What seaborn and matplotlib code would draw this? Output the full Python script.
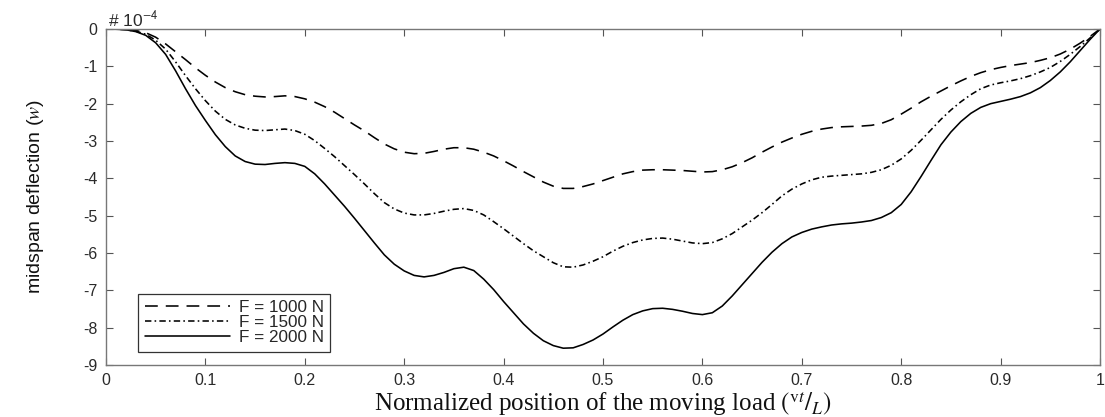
import numpy as np
import pandas as pd
import seaborn as sns
import matplotlib
matplotlib.use("Agg")
import matplotlib.pyplot as plt

# Normalized load position vt/L
position = np.round(np.arange(0, 1.0001, 0.01), 2)

# Midspan deflection (units of 1e-4) for each load level
defl_1000 = [0, -0.003, -0.01, -0.04, -0.10, -0.22, -0.40, -0.61, -0.82, -1.04,
             -1.24, -1.42, -1.57, -1.68, -1.76, -1.80, -1.82, -1.81, -1.79, -1.81,
             -1.87, -1.96, -2.08, -2.23, -2.40, -2.57, -2.73, -2.91, -3.08, -3.21,
             -3.30, -3.34, -3.33, -3.28, -3.22, -3.18, -3.18, -3.22, -3.30, -3.40,
             -3.53, -3.67, -3.82, -3.96, -4.10, -4.21, -4.27, -4.27, -4.22, -4.15,
             -4.06, -3.97, -3.88, -3.82, -3.78, -3.77, -3.77, -3.78, -3.79, -3.81,
             -3.83, -3.82, -3.77, -3.69, -3.58, -3.45, -3.30, -3.16, -3.03, -2.92,
             -2.82, -2.74, -2.68, -2.64, -2.62, -2.61, -2.60, -2.58, -2.53, -2.43,
             -2.28, -2.12, -1.95, -1.80, -1.66, -1.52, -1.39, -1.27, -1.17, -1.09,
             -1.03, -0.98, -0.94, -0.90, -0.84, -0.77, -0.67, -0.54, -0.38, -0.20, 0]
defl_1500 = [0, -0.005, -0.02, -0.06, -0.14, -0.30, -0.54, -0.88, -1.25, -1.60,
             -1.92, -2.20, -2.42, -2.57, -2.66, -2.71, -2.72, -2.70, -2.68, -2.72,
             -2.82, -2.99, -3.20, -3.42, -3.66, -3.90, -4.15, -4.41, -4.65, -4.82,
             -4.93, -4.98, -4.98, -4.94, -4.88, -4.83, -4.81, -4.86, -4.98, -5.16,
             -5.35, -5.55, -5.75, -5.94, -6.10, -6.26, -6.37, -6.38, -6.32, -6.22,
             -6.10, -5.95, -5.82, -5.72, -5.65, -5.61, -5.60, -5.63, -5.68, -5.73,
             -5.75, -5.72, -5.62, -5.48, -5.30, -5.12, -4.92, -4.70, -4.47, -4.29,
             -4.15, -4.04, -3.97, -3.94, -3.92, -3.90, -3.88, -3.84, -3.77, -3.65,
             -3.48, -3.25, -2.98, -2.70, -2.42, -2.17, -1.95, -1.76, -1.60, -1.50,
             -1.44, -1.39, -1.33, -1.25, -1.15, -1.03, -0.87, -0.68, -0.47, -0.24, 0]
defl_2000 = [0, -0.005, -0.02, -0.07, -0.17, -0.37, -0.68, -1.12, -1.60, -2.05,
             -2.45, -2.83, -3.15, -3.40, -3.55, -3.62, -3.63, -3.60, -3.58, -3.60,
             -3.68, -3.88, -4.15, -4.45, -4.75, -5.07, -5.40, -5.73, -6.05, -6.30,
             -6.48, -6.60, -6.64, -6.60, -6.52, -6.42, -6.38, -6.47, -6.70, -6.98,
             -7.30, -7.60, -7.90, -8.15, -8.35, -8.48, -8.55, -8.54, -8.45, -8.33,
             -8.17, -7.98, -7.80, -7.65, -7.55, -7.49, -7.48, -7.51, -7.56, -7.62,
             -7.65, -7.60, -7.42, -7.15, -6.85, -6.55, -6.25, -5.98, -5.75, -5.57,
             -5.45, -5.36, -5.30, -5.25, -5.22, -5.20, -5.17, -5.13, -5.05, -4.92,
             -4.70, -4.36, -3.95, -3.52, -3.10, -2.76, -2.48, -2.26, -2.10, -2.00,
             -1.94, -1.88, -1.81, -1.71, -1.57, -1.38, -1.15, -0.88, -0.58, -0.28, 0]

load_labels = ["F = 1000 N", "F = 1500 N", "F = 2000 N"]
x_ticks = [0, 0.1, 0.2, 0.3, 0.4, 0.5, 0.6, 0.7, 0.8, 0.9, 1]
x_tick_labels = ["0", "0.1", "0.2", "0.3", "0.4", "0.5", "0.6", "0.7", "0.8", "0.9", "1"]
y_ticks = [-9, -8, -7, -6, -5, -4, -3, -2, -1, 0]
y_tick_labels = ["-9", "-8", "-7", "-6", "-5", "-4", "-3", "-2", "-1", "0"]

line_dashes = {"F = 1000 N": (8, 5), "F = 1500 N": (4, 2, 1, 2), "F = 2000 N": ""}

df = pd.concat([
    pd.DataFrame({"pos": position, "w": vals, "load": lab})
    for vals, lab in zip([defl_1000, defl_1500, defl_2000], load_labels)
], ignore_index=True)

sns.set_theme(style="ticks")
plt.rcParams["font.family"] = ["Liberation Sans", "DejaVu Sans"]
plt.rcParams["mathtext.fontset"] = "stix"

fig = plt.figure(figsize=(11.05, 4.17), dpi=100)
ax = fig.add_axes([106 / 1105, 1 - 365 / 417, (1100 - 106) / 1105, (365 - 29) / 417])

sns.lineplot(
    data=df, x="pos", y="w", style="load", style_order=load_labels,
    dashes=line_dashes, color="black", linewidth=1.15, ax=ax, legend=False,
)

ax.set_xlim(0, 1)
ax.set_ylim(-9, 0)
ax.set_xticks(x_ticks)
ax.set_xticklabels(x_tick_labels)
ax.set_yticks(y_ticks)
ax.set_yticklabels(y_tick_labels)
ax.tick_params(direction="in", length=5, width=0.8, top=True, right=True,
               labelsize=11.5, colors="#555555", labelcolor="#2a2a2a", pad=6)
for sp in ax.spines.values():
    sp.set_visible(True)
    sp.set_color("#777777")
    sp.set_linewidth(1.0)

ax.set_xlabel(r"Normalized position of the moving load $\left({}^{\mathrm{v}t}/{}_{L}\right)$",
              family=["Liberation Serif", "DejaVu Serif"], fontsize=18, labelpad=1, color="#111111")
ax.set_ylabel(r"midspan deflection ($w$)", family=["Liberation Sans Narrow", "Liberation Sans"],
              fontsize=14, labelpad=27, color="#111111")

fig.text(108 / 1105, 1 - 26 / 417, r"# 10$^{\mathsf{-4}}$", fontsize=12.5, color="#2a2a2a",
         ha="left", va="baseline")

handles = [plt.Line2D([], [], color="black", lw=1.15, linestyle="--", dashes=(8, 5)),
           plt.Line2D([], [], color="black", lw=1.15, linestyle="-.", dashes=(4, 2, 1, 2)),
           plt.Line2D([], [], color="black", lw=1.15, linestyle="-")]
leg = ax.legend(handles, load_labels, loc="lower left", bbox_to_anchor=(0.032, 0.038),
                frameon=True, fancybox=False, edgecolor="black", fontsize=12.3,
                handlelength=5.0, handletextpad=0.5, labelspacing=0.0,
                borderpad=0.4, borderaxespad=0)
leg.get_frame().set_linewidth(0.9)

fig.savefig("out.png", dpi=100)
